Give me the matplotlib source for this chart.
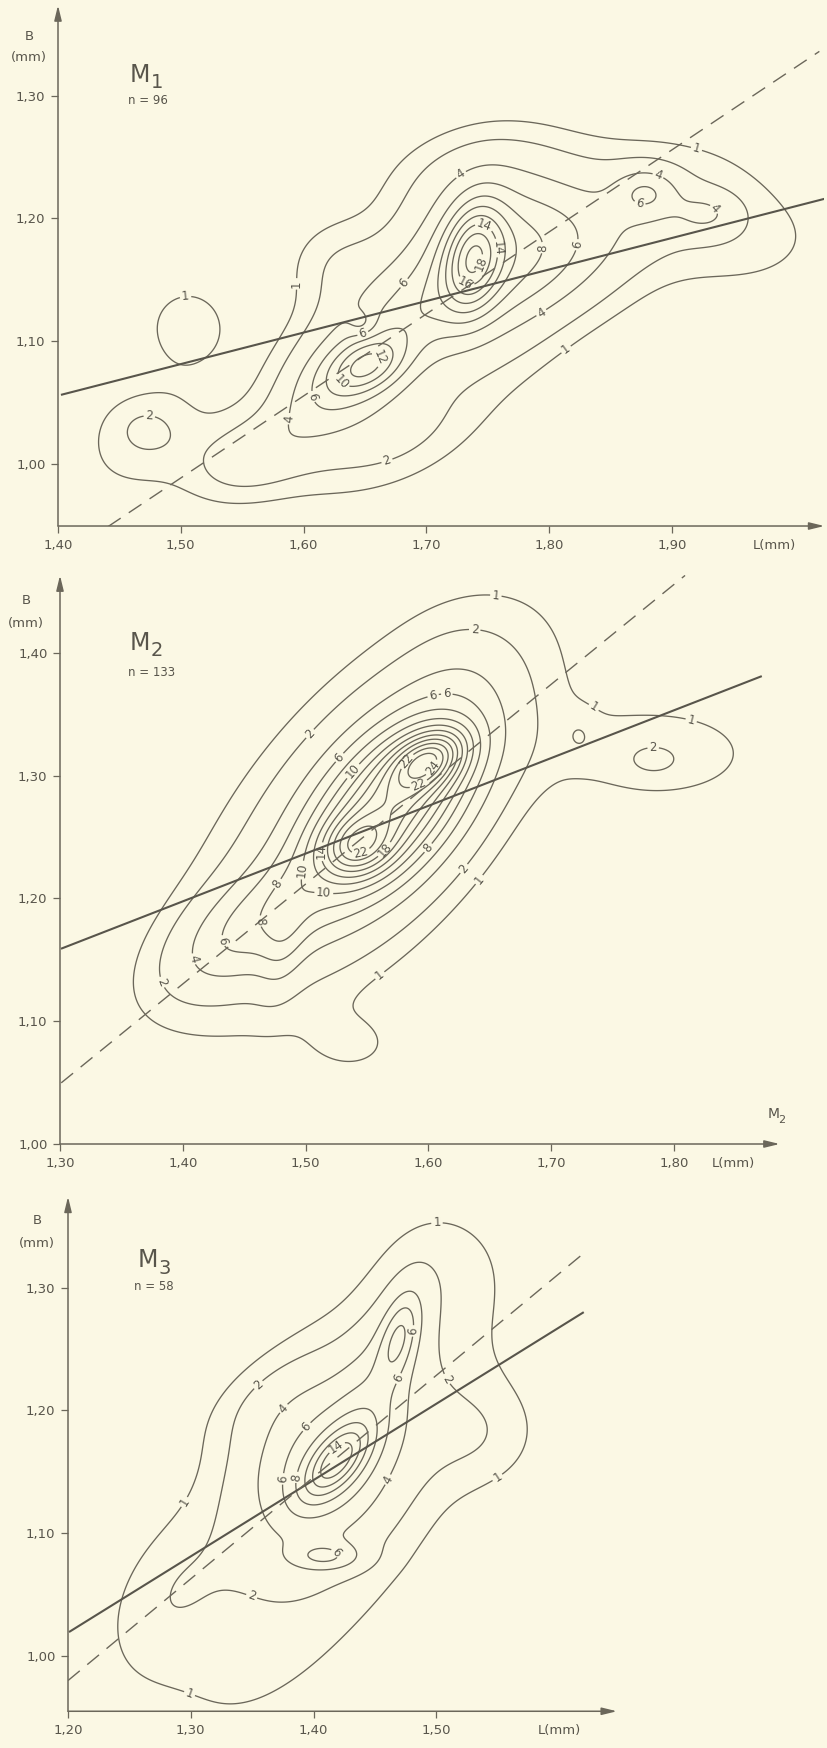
import numpy as np
import matplotlib
matplotlib.use("Agg")
import matplotlib.pyplot as plt
from matplotlib import font_manager as fm

W, H = 828, 1748
BG = "#fbf8e4"
INK = "#6b675a"
INK2 = "#58554b"

def pick(names):
    for n in names:
        try:
            fm.findfont(fm.FontProperties(family=n), fallback_to_default=False)
            return n
        except Exception:
            pass
    return "DejaVu Sans"

FONT = pick(["Liberation Sans Narrow", "DejaVu Sans"])
plt.rcParams["font.family"] = [FONT, "DejaVu Sans"]

# ---------------- data ----------------
# density components: centre L, centre B, height, spread along, spread across, angle (deg)
m1_cL = [1.470, 1.472, 1.506, 1.555, 1.645, 1.652, 1.745, 1.738, 1.800, 1.860, 1.879, 1.928, 1.680, 1.740, 1.960, 1.625, 1.690, 1.648, 1.620]
m1_cB = [1.020, 1.029, 1.112, 1.005, 1.085, 1.080, 1.160, 1.168, 1.170, 1.210, 1.221, 1.204, 1.020, 1.240, 1.180, 1.165, 1.120, 1.114, 1.060]
m1_amp = [1.5, 0.9, 1.55, 2.6, 5.0, 6.5, 6.5, 10.0, 3.0, 2.5, 3.5, 2.2, 1.8, 1.3, 1.2, 1.4, 1.5, -2.0, 2.0]
m1_su = [0.040, 0.015, 0.026, 0.035, 0.060, 0.022, 0.055, 0.030, 0.035, 0.070, 0.014, 0.012, 0.050, 0.050, 0.030, 0.028, 0.030, 0.008, 0.030]
m1_sv = [0.030, 0.020, 0.026, 0.022, 0.034, 0.014, 0.045, 0.016, 0.050, 0.035, 0.018, 0.018, 0.025, 0.025, 0.050, 0.025, 0.020, 0.008, 0.020]
m1_ang = [30, 80, 0, 20, 50, 25, 60, 80, 90, 10, 90, 90, 25, 10, 90, 20, 45, 0, 40]
m1_levels = [1, 2, 4, 6, 8, 10, 12, 14, 16, 18]
m1_solid = ([1.4024, 2.0244], [1.0563, 1.216])
m1_dashed = ([1.4407, 2.020], [0.949, 1.336])
m1_xticks = [1.40, 1.50, 1.60, 1.70, 1.80, 1.90]
m1_yticks = [1.00, 1.10, 1.20, 1.30]

m2_cL = [1.54, 1.56, 1.571, 1.541, 1.601, 1.45, 1.482, 1.625, 1.79, 1.723, 1.783, 1.54]
m2_cB = [1.262, 1.27, 1.277, 1.242, 1.313, 1.175, 1.165, 1.385, 1.318, 1.333, 1.312, 1.08]
m2_amp = [2.2, 5.0, 12.0, 7.5, 11.0, 4.3, 2.0, 0.6, 1.6, 0.8, 0.8, 1.0]
m2_su = [0.14, 0.09, 0.055, 0.020, 0.022, 0.05, 0.03, 0.035, 0.06, 0.010, 0.009, 0.03]
m2_sv = [0.06, 0.045, 0.030, 0.016, 0.014, 0.025, 0.012, 0.030, 0.030, 0.013, 0.015, 0.02]
m2_ang = [50, 50, 50, 20, 30, 35, 80, 60, 0, 0, 90, 0]
m2_levels = [1, 2, 4, 6, 8, 10, 12, 14, 16, 18, 20, 22, 24]
m2_solid = ([1.3008, 1.8715], [1.159, 1.381])
m2_dashed = ([1.301, 1.809], [1.0498, 1.463])
m2_xticks = [1.30, 1.40, 1.50, 1.60, 1.70, 1.80]
m2_yticks = [1.00, 1.10, 1.20, 1.30, 1.40]

m3_cL = [1.42, 1.405, 1.418, 1.470, 1.450, 1.410, 1.535, 1.280, 1.500, 1.360]
m3_cB = [1.14, 1.160, 1.158, 1.261, 1.220, 1.081, 1.180, 1.050, 1.315, 1.210]
m3_amp = [2.2, 5.0, 8.0, 5.0, 2.5, 3.5, 1.3, 1.3, 0.5, 0.8]
m3_su = [0.16, 0.05, 0.025, 0.025, 0.055, 0.020, 0.035, 0.05, 0.03, 0.04]
m3_sv = [0.06, 0.04, 0.012, 0.010, 0.020, 0.008, 0.030, 0.03, 0.03, 0.02]
m3_ang = [60, 55, 50, 75, 70, 0, 0, 60, 0, 30]
m3_levels = [1, 2, 4, 6, 8, 10, 12, 14, 16]
m3_solid = ([1.2008, 1.620], [1.0195, 1.280])
m3_dashed = ([1.20, 1.620], [0.98, 1.328])
m3_xticks = [1.20, 1.30, 1.40, 1.50]
m3_yticks = [1.00, 1.10, 1.20, 1.30]

titles = ["1", "2", "3"]
n_values = ["n = 96", "n = 133", "n = 58"]

# anchor points (data coords) for the contour numbers
m1_lab = [(1.503, 1.145), (1.567, 1.147), (1.726, 1.239), (1.930, 1.293), (1.891, 1.241),
          (1.874, 1.213), (1.934, 1.207), (1.747, 1.194), (1.759, 1.176), (1.745, 1.163),
          (1.734, 1.151), (1.799, 1.176), (1.835, 1.176), (1.681, 1.148), (1.649, 1.104),
          (1.666, 1.088), (1.629, 1.065), (1.795, 1.121), (1.608, 1.055), (1.587, 1.037),
          (1.475, 1.048), (1.827, 1.075), (1.670, 0.996)]
m2_lab = [(1.654, 1.437), (1.637, 1.408), (1.615, 1.376), (1.605, 1.360), (1.506, 1.332),
          (1.524, 1.318), (1.537, 1.305), (1.582, 1.312), (1.605, 1.305), (1.592, 1.293),
          (1.730, 1.348), (1.783, 1.324), (1.815, 1.349), (1.513, 1.238), (1.545, 1.238),
          (1.564, 1.240), (1.600, 1.241), (1.498, 1.223), (1.485, 1.207), (1.515, 1.207),
          (1.628, 1.225), (1.667, 1.195), (1.457, 1.181), (1.425, 1.164), (1.410, 1.151),
          (1.376, 1.129), (1.567, 1.129)]
m3_lab = [(1.501, 1.339), (1.478, 1.265), (1.467, 1.227), (1.511, 1.227), (1.354, 1.222),
          (1.374, 1.203), (1.396, 1.185), (1.421, 1.167), (1.367, 1.145), (1.389, 1.145),
          (1.458, 1.145), (1.263, 1.145), (1.548, 1.148), (1.421, 1.087), (1.355, 1.065),
          (1.301, 0.975)]


def field(Lg, Bg, cL, cB, amp, su, sv, ang):
    Z = np.zeros_like(Lg)
    for a, b, h, s1, s2, t in zip(cL, cB, amp, su, sv, ang):
        th = np.radians(t)
        dx, dy = Lg - a, Bg - b
        u = dx * np.cos(th) + dy * np.sin(th)
        v = -dx * np.sin(th) + dy * np.cos(th)
        Z += h * np.exp(-0.5 * ((u / s1) ** 2 + (v / s2) ** 2))
    return Z


fig = plt.figure(figsize=(W / 100, H / 100), dpi=100, facecolor=BG)
S = 1228.0  # pixels per mm


def make_axes(xlim, ylim, L0, x0, B0, y0):
    lp = x0 + (xlim[0] - L0) * S
    rp = x0 + (xlim[1] - L0) * S
    tp = y0 - (ylim[1] - B0) * S
    bp = y0 - (ylim[0] - B0) * S
    ax = fig.add_axes([lp / W, 1 - bp / H, (rp - lp) / W, (bp - tp) / H])
    ax.set_xlim(*xlim)
    ax.set_ylim(*ylim)
    ax.set_facecolor("none")
    for s in ax.spines.values():
        s.set_visible(False)
    return ax


def fmt(v):
    return f"{v:.2f}".replace(".", ",")


def decorate(ax, xticks, yticks, Lmm_x, idx, mlab_px, nlab_px, blab_px):
    arrow = dict(arrowstyle="-|>,head_length=0.9,head_width=0.22", lw=1.1, color=INK,
                 shrinkA=0, shrinkB=0)
    ax.annotate("", xy=(1, 0), xytext=(0, 0), xycoords="axes fraction", arrowprops=arrow)
    ax.annotate("", xy=(0, 1), xytext=(0, 0), xycoords="axes fraction", arrowprops=arrow)
    ax.set_xticks(xticks)
    ax.set_xticklabels([fmt(v) for v in xticks])
    ax.set_yticks(yticks)
    ax.set_yticklabels([fmt(v) for v in yticks])
    ax.tick_params(direction="out", length=5, width=0.9, color=INK, labelcolor=INK2,
                   labelsize=9.5, pad=4)
    ax.annotate("L(mm)", xy=(Lmm_x, ax.get_ylim()[0]), xycoords="data",
                xytext=(0, -9), textcoords="offset points", ha="center", va="top",
                fontsize=9.5, color=INK2)
    fig.text(blab_px[0] / W, 1 - blab_px[1] / H, "B", ha="center", va="center",
             fontsize=9.5, color=INK2)
    fig.text(blab_px[0] / W, 1 - (blab_px[1] + 22) / H, "(mm)", ha="center", va="center",
             fontsize=9.5, color=INK2)
    fig.text(mlab_px[0] / W, 1 - mlab_px[1] / H, "M", ha="center", va="center",
             fontsize=17, color=INK2)
    fig.text((mlab_px[0] + 17) / W, 1 - (mlab_px[1] + 8) / H, titles[idx], ha="center",
             va="center", fontsize=14, color=INK2)
    fig.text(nlab_px[0] / W, 1 - nlab_px[1] / H, n_values[idx], ha="left", va="center",
             fontsize=8.5, color=INK2)


panels = [
    dict(xlim=(1.40, 2.024), ylim=(0.9495, 1.3735), L0=1.40, x0=58, B0=1.00, y0=464,
         comp=(m1_cL, m1_cB, m1_amp, m1_su, m1_sv, m1_ang), levels=m1_levels,
         solid=m1_solid, dashed=m1_dashed, xt=m1_xticks, yt=m1_yticks, Lmm=1.983,
         lab=m1_lab, mpx=(140, 75), npx=(128, 100), bpx=(29, 36)),
    dict(xlim=(1.30, 1.886), ylim=(1.00, 1.463), L0=1.30, x0=60, B0=1.00, y0=1144,
         comp=(m2_cL, m2_cB, m2_amp, m2_su, m2_sv, m2_ang), levels=m2_levels,
         solid=m2_solid, dashed=m2_dashed, xt=m2_xticks, yt=m2_yticks, Lmm=1.848,
         lab=m2_lab, mpx=(140, 643), npx=(128, 672), bpx=(26, 601)),
    dict(xlim=(1.20, 1.647), ylim=(0.955, 1.374), L0=1.20, x0=68, B0=1.00, y0=1656,
         comp=(m3_cL, m3_cB, m3_amp, m3_su, m3_sv, m3_ang), levels=m3_levels,
         solid=m3_solid, dashed=m3_dashed, xt=m3_xticks, yt=m3_yticks, Lmm=1.60,
         lab=m3_lab, mpx=(148, 1260), npx=(134, 1287), bpx=(37, 1221)),
]

for i, p in enumerate(panels):
    ax = make_axes(p["xlim"], p["ylim"], p["L0"], p["x0"], p["B0"], p["y0"])
    Lg, Bg = np.meshgrid(np.linspace(p["xlim"][0], p["xlim"][1], 600),
                         np.linspace(p["ylim"][0], p["ylim"][1], 600))
    Z = field(Lg, Bg, *p["comp"])
    cs = ax.contour(Lg, Bg, Z, levels=p["levels"], colors=INK, linewidths=0.95)
    ax.clabel(cs, fmt="%d", manual=p["lab"], inline=True, inline_spacing=2,
              fontsize=8.5, colors=INK2)
    ax.plot(p["solid"][0], p["solid"][1], color=INK2, lw=1.5, solid_capstyle="butt")
    ax.plot(p["dashed"][0], p["dashed"][1], color=INK, lw=1.0, dashes=(11, 7))
    decorate(ax, p["xt"], p["yt"], p["Lmm"], i, p["mpx"], p["npx"], p["bpx"])

fig.text(774 / W, 1 - 1114 / H, "M", ha="center", va="center", fontsize=10, color=INK2)
fig.text(782 / W, 1 - 1120 / H, "2", ha="center", va="center", fontsize=8, color=INK2)

fig.savefig("out.png", dpi=100, facecolor=BG)
